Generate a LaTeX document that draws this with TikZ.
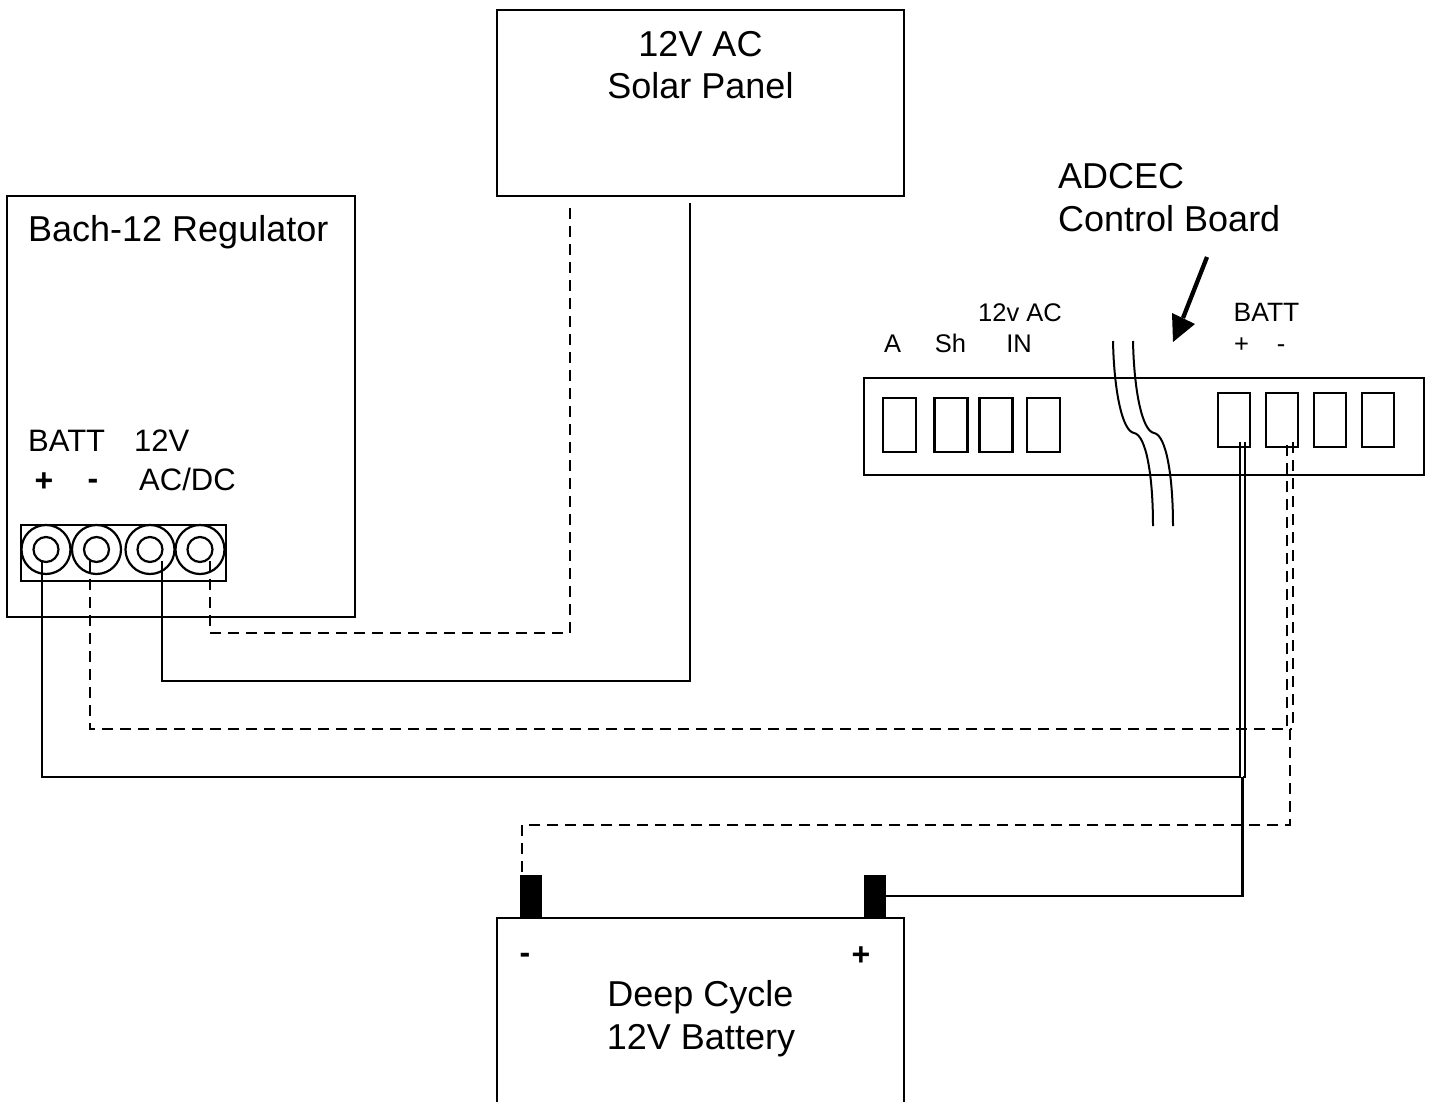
\documentclass[tikz,border=0pt]{standalone}
\usepackage{fontspec}
\setmainfont{Liberation Sans}
\tikzset{
  wire/.style={line width=2.7pt,line join=miter},
  dwire/.style={wire,dash pattern=on 11pt off 7pt},
  box/.style={draw,line width=2.7pt,rectangle,anchor=north west,inner sep=0pt,outer sep=0pt},
  big/.style={font=\fontsize{36}{43}\selectfont,inner sep=0pt,anchor=base},
  bigl/.style={big,anchor=base west},
  mid/.style={font=\fontsize{31}{36}\selectfont,inner sep=0pt,anchor=base west},
  small/.style={font=\fontsize{25.5}{31}\selectfont,inner sep=0pt,anchor=base},
  boldt/.style={font=\fontsize{32}{36}\bfseries\selectfont,inner sep=0pt,anchor=base},
  outer/.style={draw,line width=2.2pt,circle,minimum size=49pt,inner sep=0pt,outer sep=0pt},
  inner/.style={draw,line width=2.2pt,circle,minimum size=25pt,inner sep=0pt,outer sep=0pt},
  post/.style={fill=black,rectangle,anchor=north west,inner sep=0pt,outer sep=0pt,minimum width=22pt,minimum height=44pt},
  slot/.style={box,minimum width=33pt,minimum height=54pt},
  rslot/.style={box,minimum width=32pt,minimum height=54pt},
  breakline/.style={line width=2pt},
}
\begin{document}
\begin{tikzpicture}[x=1pt,y=-1pt]
\useasboundingbox (0,0) rectangle (1433,1102);
% boxes
\node[box,minimum width=407pt,minimum height=186pt] (solar) at (497,10) {};
\node[box,minimum width=348pt,minimum height=421pt] (reg) at (7,196) {};
\node[box,minimum width=205pt,minimum height=56pt] (strip) at (21,525) {};
\node[box,minimum width=560pt,minimum height=97pt] (board) at (864,378) {};
% terminals
\foreach \n/\x in {1/46,2/96.5,3/150,4/200}{
  \node[outer] (o\n) at (\x,549.5) {};
  \node[inner] (t\n) at (\x,549.5) {};
}
% slots
\node[slot] (s1) at (883,398) {};
\node[slot] (s2) at (934.5,398) {};
\node[slot] (s3) at (979.5,398) {};
\node[slot] (s4) at (1027,398) {};
\node[rslot] (s5) at (1218,393) {};
\node[rslot] (s6) at (1266,393) {};
\node[rslot] (s7) at (1314,393) {};
\node[rslot] (s8) at (1362,393) {};
% battery (runs off the page)
\coordinate (bbl) at (497,1103);
\coordinate (btl) at (497,918);
\coordinate (btr) at (904,918);
\coordinate (bbr) at (904,1103);
\draw[wire] (bbl) -- (btl) -- (btr) -- (bbr);
\node[post] (pneg) at (519.5,874.5) {};
\node[post] (ppos) at (863.5,874.5) {};
% free ends of connectors
\coordinate (a1) at (42,561);
\coordinate (a2) at (90,561);
\coordinate (a3) at (162,561);
\coordinate (a4) at (210,561);
\coordinate (spd) at (570,203);
\coordinate (sps) at (690,203);
\coordinate (c1) at (1240,442);
\coordinate (c2) at (1245,442);
\coordinate (d1) at (1287,442);
\coordinate (d2) at (1293,442);
\coordinate (jp) at (1242.5,777);
\coordinate (jn) at (1290,729);
\coordinate (negend) at (522,872);
% solid wires
\draw[wire] (a1) -- (42,777) -- (c1|-jp) -- (c1);
\draw[wire] (c2) -- (c2|-jp) -- (jp);
\draw[wire] (jp) -- (1242.5,896) -- (ppos.east|-0,896);
\draw[wire] (a3) -- (162,681) -- (690,681) -- (sps);
% dashed wires
\draw[dwire] (a4) -- (210,633) -- (570,633) -- (spd);
\draw[dwire] (a2) -- (90,729) -- (d1|-jn) -- (d1);
\draw[dwire] (d2) -- (d2|-jn) -- (jn);
\draw[dwire] (jn) -- (1290,825) -- (522,825) -- (negend);
% break marks
\coordinate (w1a) at (1113,341);
\coordinate (w1b) at (1153,526);
\coordinate (w2a) at (1133,341);
\coordinate (w2b) at (1173,526);
\draw[breakline] (w1a) .. controls (1114,390) and (1122,431) .. (1134,433) .. controls (1146,435) and (1153,475) .. (w1b);
\draw[breakline] (w2a) .. controls (1134,390) and (1142,431) .. (1154,433) .. controls (1166,435) and (1173,475) .. (w2b);
% arrow
\coordinate (ar0) at (1207,257);
\coordinate (ar1) at (1183,318);
\coordinate (tip) at (1173,342);
\draw[line width=4.3pt] (ar0) -- (ar1);
\fill (tip) -- (1172,313) -- (1195,324) -- cycle;
% texts
\node[big] (tsol1) at (700.5,57) {12V AC};
\node[big] (tsol2) at (700.5,99) {Solar Panel};
\node[bigl] (treg) at (28,242) {Bach-12 Regulator};
\node[bigl] (tad1) at (1058,189) {ADCEC};
\node[bigl] (tad2) at (1058,232) {Control Board};
\node[mid] (tb) at (28,451) {BATT};
\node[mid] (tv) at (134,451) {12V};
\node[mid] (tac) at (139,490) {AC/DC};
\node[boldt] (tp) at (44,491) {+};
\node[boldt] (tm) at (93,489) {-};
\node[small] (lA) at (892.5,352) {A};
\node[small] (lSh) at (950.5,352) {Sh};
\node[small] (l12) at (1020,321) {12v AC};
\node[small] (lIN) at (1019,352) {IN};
\node[small,font=\fontsize{26.5}{31}\selectfont] (lB) at (1266.5,321) {BATT};
\node[small] (lp) at (1241.5,352) {+};
\node[small] (lm) at (1281,352) {-};
\node[boldt] (bm) at (525,963) {-};
\node[boldt] (bp) at (861,965) {+};
\node[big] (tb1) at (700.5,1006) {Deep Cycle};
\node[big] (tb2) at (701,1049) {12V Battery};
\end{tikzpicture}
\end{document}
